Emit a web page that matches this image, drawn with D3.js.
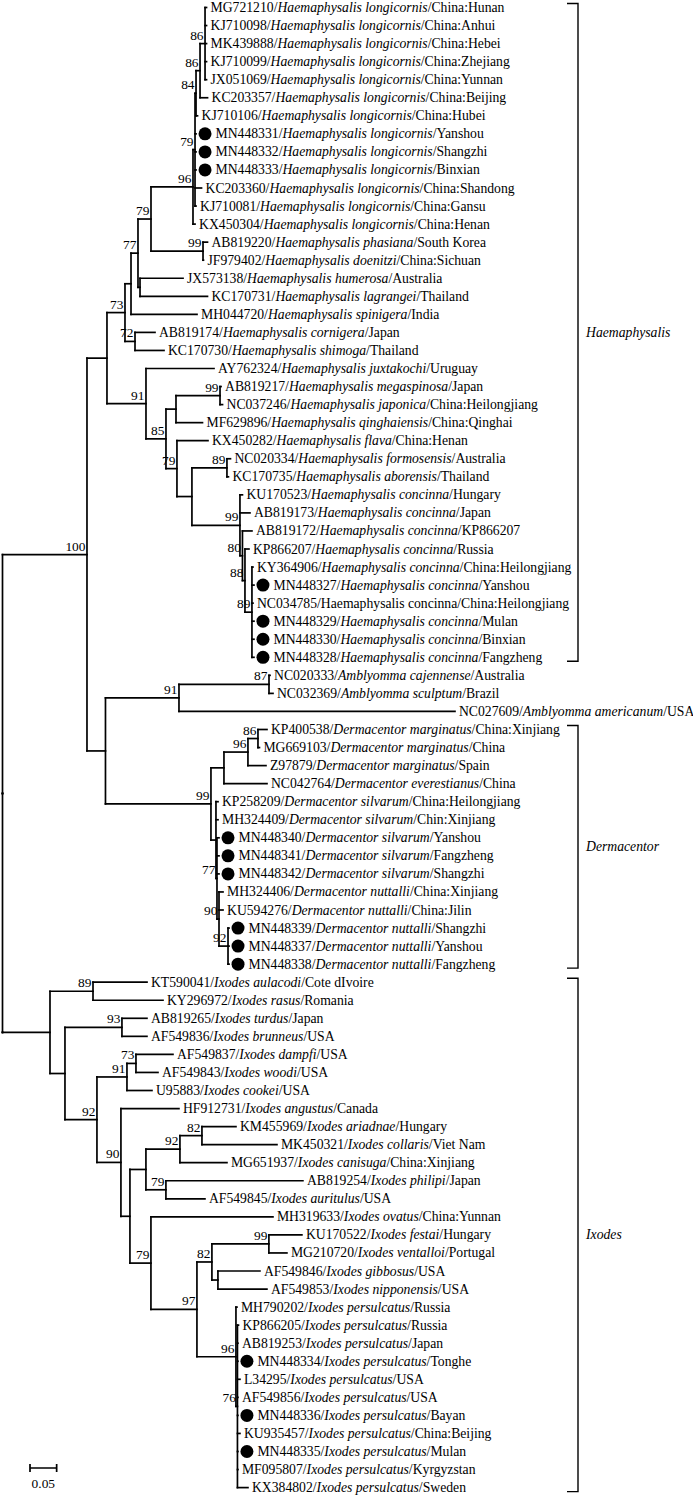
<!DOCTYPE html>
<html>
<head>
<meta charset="utf-8">
<script src="https://cdn.jsdelivr.net/npm/d3@7/dist/d3.min.js"></script>
<style>
  html, body { margin: 0; padding: 0; background: #fff; }
  svg { display: block; }
  text { font-family: "Liberation Serif", "Times New Roman", serif; fill: #000; }
</style>
</head>
<body>
<svg id="chart" width="693" height="1497"></svg>
<script>
// ---------------- DATA ----------------
const accessions = [
  "MG721210","KJ710098","MK439888","KJ710099","JX051069","KC203357","KJ710106","MN448331","MN448332","MN448333",
  "KC203360","KJ710081","KX450304","AB819220","JF979402","JX573138","KC170731","MH044720","AB819174","KC170730",
  "AY762324","AB819217","NC037246","MF629896","KX450282","NC020334","KC170735","KU170523","AB819173","AB819172",
  "KP866207","KY364906","MN448327","NC034785","MN448329","MN448330","MN448328","NC020333","NC032369","NC027609",
  "KP400538","MG669103","Z97879","NC042764","KP258209","MH324409","MN448340","MN448341","MN448342","MH324406",
  "KU594276","MN448339","MN448337","MN448338","KT590041","KY296972","AB819265","AF549836","AF549837","AF549843",
  "U95883","HF912731","KM455969","MK450321","MG651937","AB819254","AF549845","MH319633","KU170522","MG210720",
  "AF549846","AF549853","MH790202","KP866205","AB819253","MN448334","L34295","AF549856","MN448336","KU935457",
  "MN448335","MF095807","KX384802"
];
const HL = "Haemaphysalis longicornis", HC = "Haemaphysalis concinna", IP = "Ixodes persulcatus";
const species = [
  HL,HL,HL,HL,HL,HL,HL,HL,HL,HL,
  HL,HL,HL,"Haemaphysalis phasiana","Haemaphysalis doenitzi","Haemaphysalis humerosa","Haemaphysalis lagrangei","Haemaphysalis spinigera","Haemaphysalis cornigera","Haemaphysalis shimoga",
  "Haemaphysalis juxtakochi","Haemaphysalis megaspinosa","Haemaphysalis japonica","Haemaphysalis qinghaiensis","Haemaphysalis flava","Haemaphysalis formosensis","Haemaphysalis aborensis",HC,HC,HC,
  HC,HC,HC,HC,HC,HC,HC,"Amblyomma cajennense","Amblyomma sculptum","Amblyomma americanum",
  "Dermacentor marginatus","Dermacentor marginatus","Dermacentor marginatus","Dermacentor everestianus","Dermacentor silvarum","Dermacentor silvarum","Dermacentor silvarum","Dermacentor silvarum","Dermacentor silvarum","Dermacentor nuttalli",
  "Dermacentor nuttalli","Dermacentor nuttalli","Dermacentor nuttalli","Dermacentor nuttalli","Ixodes aulacodi","Ixodes rasus","Ixodes turdus","Ixodes brunneus","Ixodes dampfi","Ixodes woodi",
  "Ixodes cookei","Ixodes angustus","Ixodes ariadnae","Ixodes collaris","Ixodes canisuga","Ixodes philipi","Ixodes auritulus","Ixodes ovatus","Ixodes festai","Ixodes ventalloi",
  "Ixodes gibbosus","Ixodes nipponensis",IP,IP,IP,IP,IP,IP,IP,IP,
  IP,IP,IP
];
const places = [
  "China:Hunan","China:Anhui","China:Hebei","China:Zhejiang","China:Yunnan","China:Beijing","China:Hubei","Yanshou","Shangzhi","Binxian",
  "China:Shandong","China:Gansu","China:Henan","South Korea","China:Sichuan","Australia","Thailand","India","Japan","Thailand",
  "Uruguay","Japan","China:Heilongjiang","China:Qinghai","China:Henan","Australia","Thailand","Hungary","Japan","KP866207",
  "Russia","China:Heilongjiang","Yanshou","China:Heilongjiang","Mulan","Binxian","Fangzheng","Australia","Brazil","USA",
  "China:Xinjiang","China","Spain","China","China:Heilongjiang","Chin:Xinjiang","Yanshou","Fangzheng","Shangzhi","China:Xinjiang",
  "China:Jilin","Shangzhi","Yanshou","Fangzheng","Cote dIvoire","Romania","Japan","USA","USA","USA",
  "USA","Canada","Hungary","Viet Nam","China:Xinjiang","Japan","USA","China:Yunnan","Hungary","Portugal",
  "USA","USA","Russia","Russia","Japan","Tonghe","USA","USA","Bayan","China:Beijing",
  "Mulan","Kyrgyzstan","Sweden"
];
const marked = ["MN448331","MN448332","MN448333","MN448327","MN448329","MN448330","MN448328",
  "MN448340","MN448341","MN448342","MN448339","MN448337","MN448338","MN448334","MN448336","MN448335"];
const uprightSpecies = ["NC034785"];

// Tree topology with branch lengths (substitutions/site) and bootstrap values
const haemaphysalisTree =
  "(((((((((((MG721210:0.0028,KJ710098:0.0028,MK439888:0.0028,KJ710099:0.0028,JX051069:0.0028)86:0.0094," +
  "KC203357:0.0141)86:0.0075,KJ710106:0.0028)84:0.0019,MN448331:0.0019,MN448332:0.0019,MN448333:0.0019," +
  "KC203360:0.0122,KJ710081:0.0019)79:0.0038,KX450304:0.0038)96:0.0788," +
  "(AB819220:0.0084,JF979402:0.0009)99:0.0976)79:0.0244," +
  "(JX573138:0.0807,KC170731:0.1266):0.0038)77:0.0131,MH044720:0.1238):0.0113," +
  "(AB819174:0.0375,KC170730:0.0544)72:0.0188)73:0.0338," +
  "(AY762324:0.1276,(((AB819217:0.0019,NC037246:0.0047)99:0.0826,MF629896:0.0497):0.0188," +
  "(KX450282:0.0582,((NC020334:0.0066,KC170735:0.0028)89:0.0657," +
  "(KU170523:0.0047,AB819173:0.0188,(AB819172:0.0178,(KP866207:0.0075," +
  "(KY364906:0.0019,MN448327:0.0038,NC034785:0.0019,MN448329:0.0038,MN448330:0.0038,MN448328:0.0038)89:0.0131" +
  ")88:0.0047)80:0.0047)99:0.0901):0.0281)79:0.0206)85:0.0375)91:0.0732):0.0375";
const amblyommaTree =
  "((NC020333:0.0019,NC032369:0.0075)87:0.1689,NC027609:0.5178)91:0.1379";
const dermacentorTree =
  "((((KP400538:0.0169,MG669103:0.0028)86:0.0188,Z97879:0.0338)96:0.0450,NC042764:0.0807):0.0244," +
  "(KP258209:0.0038,MH324409:0.0038,(MN448340:0.0038,MN448341:0.0038,MN448342:0.0038," +
  "(MH324406:0.0075,KU594276:0.0075,(MN448339:0.0019,MN448337:0.0019,MN448338:0.0019)92:0.0169)90:0.0038" +
  ")77:0.0019):0.0094)99:0.1979";
const ixodesTree =
  "(((KT590041:0.1013,KY296972:0.1313)89:0.0807," +
  "((AB819265:0.0469,AF549836:0.0469)93:0.1069," +
  "(((AF549837:0.0694,AF549843:0.0413)73:0.0169,U95883:0.0469)91:0.0563," +
  "(HF912731:0.1088,((((KM455969:0.0638,MK450321:0.1407)82:0.0413,MG651937:0.0882)92:0.0638," +
  "(AB819254:0.2570,AF549845:0.0732)79:0.0375):0.0300," +
  "(MH319633:0.2289,(((KU170522:0.0619,MG210720:0.0338)99:0.1069,(AF549846:0.0788,AF549853:0.0919):0.0113)82:0.0281," +
  "(MH790202:0.0019,(KP866205:0.0019,AB819253:0.0009,MN448334:0.0009,L34295:0.0047,AF549856:0.0009," +
  "MN448336:0.0009,KU935457:0.0047,MN448335:0.0009,MF095807:0.0009,KX384802:0.0197)76:0.0028)96:0.0732" +
  ")97:0.0863)79:0.0394):0.0169)90:0.0450)92:0.0600):0.0281):0.0891)";
const newick = "(((" + haemaphysalisTree + ",(" + amblyommaTree + "," + dermacentorTree + "):0.0347)100:0.1585," + ixodesTree + ");";

const cladeNames = ["Haemaphysalis", "Dermacentor", "Ixodes"];
const cladeFirst = ["MG721210", "KP400538", "KT590041"];
const cladeLast  = ["MN448328", "MN448338", "KX384802"];
const scaleBarValue = 0.05;

// ---------------- PARSER ----------------
function parseNewick(s) {
  let i = 0;
  function node() {
    const n = {};
    if (s[i] === "(") {
      i++;
      n.children = [];
      n.children.push(node());
      while (s[i] === ",") { i++; n.children.push(node()); }
      i++; // ')'
    }
    let label = "";
    while (i < s.length && !",():;".includes(s[i])) label += s[i++];
    if (n.children) n.support = label || null; else n.name = label;
    n.length = 0;
    if (s[i] === ":") {
      i++;
      let num = "";
      while (i < s.length && !",();".includes(s[i])) num += s[i++];
      n.length = +num;
    }
    return n;
  }
  return node();
}

// ---------------- LAYOUT ----------------
const svg = d3.select("#chart");
const root = d3.hierarchy(parseNewick(newick));
root.each(d => { d.dist = d.parent ? d.parent.dist + d.data.length : 0; });

const xs = d3.scaleLinear().domain([0, 1]).range([2.5, 535.5]);
const ys = d3.scalePoint().domain(accessions).range([7.5, 1487.6]);

root.eachAfter(d => {
  d.px = xs(d.dist);
  if (d.children) {
    d.py = (d.children[0].py + d.children[d.children.length - 1].py) / 2;
  } else {
    d.py = ys(d.data.name);
  }
});

const g = svg.append("g");
const stroke = "#000", sw = 1.7;

// horizontal branches
g.selectAll("line.h").data(root.descendants().filter(d => d.parent))
  .join("line").attr("class", "h")
  .attr("x1", d => d.parent.px).attr("x2", d => d.px)
  .attr("y1", d => d.py).attr("y2", d => d.py)
  .attr("stroke", stroke).attr("stroke-width", sw).attr("stroke-linecap", "square");

// vertical connectors
g.selectAll("line.v").data(root.descendants().filter(d => d.children))
  .join("line").attr("class", "v")
  .attr("x1", d => d.px).attr("x2", d => d.px)
  .attr("y1", d => d.children[0].py).attr("y2", d => d.children[d.children.length - 1].py)
  .attr("stroke", stroke).attr("stroke-width", sw).attr("stroke-linecap", "square");

// bootstrap values
g.selectAll("text.bs").data(root.descendants().filter(d => d.children && d.data.support))
  .join("text").attr("class", "bs")
  .attr("x", d => d.px - 1.5).attr("y", d => d.py - 4)
  .attr("text-anchor", "end").attr("font-size", 13.4)
  .text(d => d.data.support);

// leaves
const leafInfo = name => {
  const k = accessions.indexOf(name);
  return { acc: name, sp: species[k], pl: places[k], upright: uprightSpecies.includes(name) };
};
const leaves = root.leaves();
g.selectAll("circle.mk").data(leaves.filter(d => marked.includes(d.data.name)))
  .join("circle").attr("class", "mk")
  .attr("cx", d => d.px + 9).attr("cy", d => d.py).attr("r", 6.5).attr("fill", "#000");

const lt = g.selectAll("text.leaf").data(leaves)
  .join("text").attr("class", "leaf")
  .attr("x", d => d.px + (marked.includes(d.data.name) ? 19.5 : 4))
  .attr("y", d => d.py).attr("dy", "0.33em")
  .attr("font-size", 13.7);
lt.each(function(d) {
  const info = leafInfo(d.data.name);
  const t = d3.select(this);
  t.append("tspan").text(info.acc + "/");
  t.append("tspan").attr("font-style", info.upright ? "normal" : "italic").text(info.sp);
  t.append("tspan").text("/" + info.pl);
});

// clade brackets
const bx = 578, tick = 11;
cladeNames.forEach((name, k) => {
  const y0 = ys(cladeFirst[k]) - 4, y1 = ys(cladeLast[k]) + 4;
  g.append("path")
    .attr("d", `M${bx - tick},${y0}H${bx}V${y1}H${bx - tick}`)
    .attr("fill", "none").attr("stroke", stroke).attr("stroke-width", 1.4);
  g.append("text").attr("x", bx + 8).attr("y", (y0 + y1) / 2).attr("dy", "0.33em")
    .attr("font-size", 13.7).attr("font-style", "italic").text(name);
});

// scale bar
const sbX = 30, sbY = 1468;
const sbLen = xs(scaleBarValue) - xs(0);
g.append("path")
  .attr("d", `M${sbX},${sbY - 4}V${sbY + 4}M${sbX},${sbY}H${sbX + sbLen}M${sbX + sbLen},${sbY - 4}V${sbY + 4}`)
  .attr("fill", "none").attr("stroke", stroke).attr("stroke-width", 1.7);
g.append("text").attr("x", sbX + sbLen / 2).attr("y", sbY + 20)
  .attr("text-anchor", "middle").attr("font-size", 13.4).text(d3.format(".2f")(scaleBarValue));
</script>
</body>
</html>
